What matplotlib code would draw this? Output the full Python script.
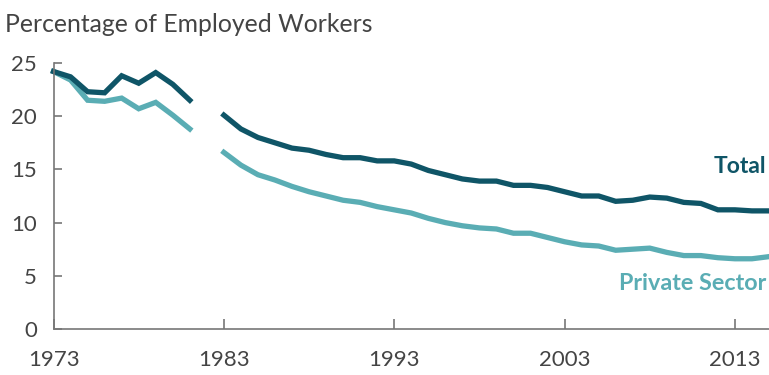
import matplotlib
matplotlib.use("Agg")
import matplotlib.pyplot as plt
from matplotlib import font_manager
import numpy as np

years_a = [1973, 1974, 1975, 1976, 1977, 1978, 1979, 1980, 1981]
total_a = [24.2, 23.7, 22.3, 22.2, 23.8, 23.1, 24.1, 23.0, 21.5]
private_a = [24.2, 23.4, 21.5, 21.4, 21.7, 20.7, 21.3, 20.1, 18.8]

years_b = list(range(1983, 2016))
total_b = [20.1, 18.8, 18.0, 17.5, 17.0, 16.8, 16.4, 16.1, 16.1, 15.8,
           15.8, 15.5, 14.9, 14.5, 14.1, 13.9, 13.9, 13.5, 13.5, 13.3,
           12.9, 12.5, 12.5, 12.0, 12.1, 12.4, 12.3, 11.9, 11.8, 11.2,
           11.2, 11.1, 11.1]
private_b = [16.6, 15.4, 14.5, 14.0, 13.4, 12.9, 12.5, 12.1, 11.9, 11.5,
             11.2, 10.9, 10.4, 10.0, 9.7, 9.5, 9.4, 9.0, 9.0, 8.6,
             8.2, 7.9, 7.8, 7.4, 7.5, 7.6, 7.2, 6.9, 6.9, 6.7,
             6.6, 6.6, 6.8]

xticks = [1973, 1983, 1993, 2003, 2013]
yticks = [0, 5, 10, 15, 20, 25]

dark = "#0f5567"
light = "#5aadb4"
gray = "#444444"

fig = plt.figure(figsize=(7.69, 3.75), dpi=100)
ax = fig.add_axes([0.0696, 0.1227, 0.9304, 0.7093])

for xs, t, p in [(years_a, total_a, private_a), (years_b, total_b, private_b)]:
    ax.plot(xs, p, color=light, lw=3.8, solid_joinstyle="miter", clip_on=False)
    ax.plot(xs, t, color=dark, lw=3.8, solid_joinstyle="miter", clip_on=False)

ax.set_xlim(1973, 2015)
ax.set_ylim(0, 25)
ax.set_xticks(xticks)
ax.set_yticks(yticks)
ax.set_xticklabels([str(x) for x in xticks])
ax.set_yticklabels([str(y) for y in yticks])

for s in ["top", "right"]:
    ax.spines[s].set_visible(False)
for s in ["left", "bottom"]:
    ax.spines[s].set_color("#777777")
    ax.spines[s].set_linewidth(1.2)

ax.tick_params(axis="y", direction="in", length=6, width=1.2, color="#777777",
               pad=12, labelcolor=gray)
ax.tick_params(axis="x", direction="in", length=7, width=1.2, color="#777777",
               pad=15, labelcolor=gray)

tp = font_manager.FontProperties(family=["Lato", "DejaVu Sans"], size=16)
for lab in ax.get_xticklabels() + ax.get_yticklabels():
    lab.set_fontproperties(tp)

fig.text(0.006, 0.935, "Percentage of Employed Workers", fontsize=17.8,
         color=gray, family=["Lato", "DejaVu Sans"], ha="left", va="center")

ax.text(2014.85, 15.3, "Total", color=dark, fontsize=16.5, fontweight="bold",
        family=["Lato", "DejaVu Sans"], ha="right", va="center")
ax.text(2014.85, 4.3, "Private Sector", color=light, fontsize=16.8, fontweight="bold",
        family=["Lato", "DejaVu Sans"], ha="right", va="center")

fig.savefig("out.png", dpi=100)
